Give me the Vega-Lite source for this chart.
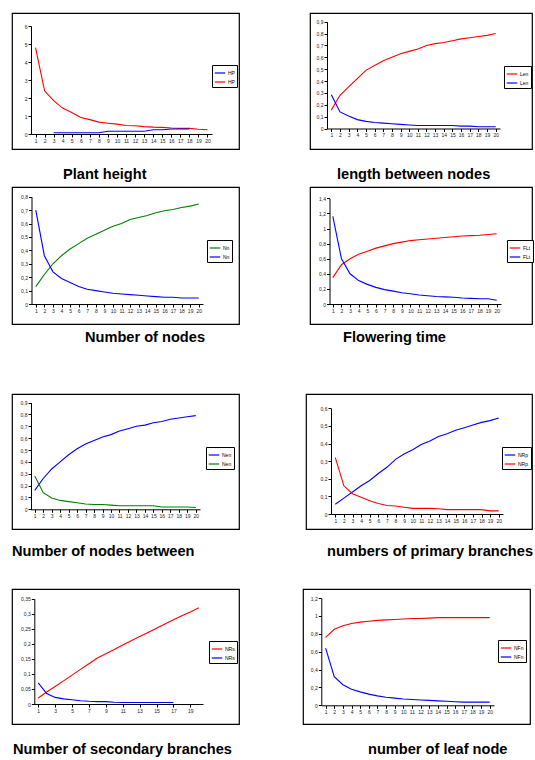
{
"$schema": "https://vega.github.io/schema/vega-lite/v6.json",
"background": "white",
"padding": {"left": 11, "top": 12, "right": 0, "bottom": 0},
"datasets": {
"p1": [
{"s":"HP|r","x":1,"y":4.8},{"s":"HP|r","x":2,"y":2.4},{"s":"HP|r","x":3,"y":1.85},{"s":"HP|r","x":4,"y":1.44},{"s":"HP|r","x":5,"y":1.2},{"s":"HP|r","x":6,"y":0.92},{"s":"HP|r","x":7,"y":0.8},{"s":"HP|r","x":8,"y":0.66},{"s":"HP|r","x":9,"y":0.6},{"s":"HP|r","x":10,"y":0.55},{"s":"HP|r","x":11,"y":0.47},{"s":"HP|r","x":12,"y":0.46},{"s":"HP|r","x":13,"y":0.41},{"s":"HP|r","x":14,"y":0.38},{"s":"HP|r","x":15,"y":0.37},{"s":"HP|r","x":16,"y":0.33},{"s":"HP|r","x":17,"y":0.31},{"s":"HP|r","x":18,"y":0.31},{"s":"HP|r","x":19,"y":0.26},{"s":"HP|r","x":20,"y":0.24},
{"s":"HP|b","x":3,"y":0.07},{"s":"HP|b","x":4,"y":0.07},{"s":"HP|b","x":5,"y":0.07},{"s":"HP|b","x":6,"y":0.07},{"s":"HP|b","x":7,"y":0.07},{"s":"HP|b","x":8,"y":0.07},{"s":"HP|b","x":9,"y":0.15},{"s":"HP|b","x":10,"y":0.15},{"s":"HP|b","x":11,"y":0.15},{"s":"HP|b","x":12,"y":0.15},{"s":"HP|b","x":13,"y":0.15},{"s":"HP|b","x":14,"y":0.24},{"s":"HP|b","x":15,"y":0.24},{"s":"HP|b","x":16,"y":0.28},{"s":"HP|b","x":17,"y":0.28},{"s":"HP|b","x":18,"y":0.28}
],
"p2": [
{"s":"Len|r","x":1,"y":0.155},{"s":"Len|r","x":2,"y":0.28},{"s":"Len|r","x":3,"y":0.35},{"s":"Len|r","x":4,"y":0.42},{"s":"Len|r","x":5,"y":0.49},{"s":"Len|r","x":6,"y":0.53},{"s":"Len|r","x":7,"y":0.57},{"s":"Len|r","x":8,"y":0.6},{"s":"Len|r","x":9,"y":0.63},{"s":"Len|r","x":10,"y":0.65},{"s":"Len|r","x":11,"y":0.67},{"s":"Len|r","x":12,"y":0.7},{"s":"Len|r","x":13,"y":0.715},{"s":"Len|r","x":14,"y":0.725},{"s":"Len|r","x":15,"y":0.74},{"s":"Len|r","x":16,"y":0.755},{"s":"Len|r","x":17,"y":0.765},{"s":"Len|r","x":18,"y":0.775},{"s":"Len|r","x":19,"y":0.785},{"s":"Len|r","x":20,"y":0.8},
{"s":"Len|b","x":1,"y":0.285},{"s":"Len|b","x":2,"y":0.14},{"s":"Len|b","x":3,"y":0.105},{"s":"Len|b","x":4,"y":0.075},{"s":"Len|b","x":5,"y":0.06},{"s":"Len|b","x":6,"y":0.05},{"s":"Len|b","x":7,"y":0.045},{"s":"Len|b","x":8,"y":0.04},{"s":"Len|b","x":9,"y":0.035},{"s":"Len|b","x":10,"y":0.03},{"s":"Len|b","x":11,"y":0.025},{"s":"Len|b","x":12,"y":0.025},{"s":"Len|b","x":13,"y":0.025},{"s":"Len|b","x":14,"y":0.025},{"s":"Len|b","x":15,"y":0.025},{"s":"Len|b","x":16,"y":0.02},{"s":"Len|b","x":17,"y":0.02},{"s":"Len|b","x":18,"y":0.015},{"s":"Len|b","x":19,"y":0.015},{"s":"Len|b","x":20,"y":0.015}
],
"p3": [
{"s":"Nn|g","x":1,"y":0.13},{"s":"Nn|g","x":2,"y":0.22},{"s":"Nn|g","x":3,"y":0.3},{"s":"Nn|g","x":4,"y":0.36},{"s":"Nn|g","x":5,"y":0.41},{"s":"Nn|g","x":6,"y":0.45},{"s":"Nn|g","x":7,"y":0.49},{"s":"Nn|g","x":8,"y":0.52},{"s":"Nn|g","x":9,"y":0.55},{"s":"Nn|g","x":10,"y":0.58},{"s":"Nn|g","x":11,"y":0.6},{"s":"Nn|g","x":12,"y":0.63},{"s":"Nn|g","x":13,"y":0.645},{"s":"Nn|g","x":14,"y":0.66},{"s":"Nn|g","x":15,"y":0.68},{"s":"Nn|g","x":16,"y":0.695},{"s":"Nn|g","x":17,"y":0.705},{"s":"Nn|g","x":18,"y":0.72},{"s":"Nn|g","x":19,"y":0.73},{"s":"Nn|g","x":20,"y":0.745},
{"s":"Nn|b","x":1,"y":0.7},{"s":"Nn|b","x":2,"y":0.36},{"s":"Nn|b","x":3,"y":0.24},{"s":"Nn|b","x":4,"y":0.19},{"s":"Nn|b","x":5,"y":0.16},{"s":"Nn|b","x":6,"y":0.13},{"s":"Nn|b","x":7,"y":0.11},{"s":"Nn|b","x":8,"y":0.1},{"s":"Nn|b","x":9,"y":0.09},{"s":"Nn|b","x":10,"y":0.08},{"s":"Nn|b","x":11,"y":0.075},{"s":"Nn|b","x":12,"y":0.07},{"s":"Nn|b","x":13,"y":0.065},{"s":"Nn|b","x":14,"y":0.06},{"s":"Nn|b","x":15,"y":0.055},{"s":"Nn|b","x":16,"y":0.05},{"s":"Nn|b","x":17,"y":0.05},{"s":"Nn|b","x":18,"y":0.045},{"s":"Nn|b","x":19,"y":0.045},{"s":"Nn|b","x":20,"y":0.045}
],
"p4": [
{"s":"FLt|r","x":1,"y":0.35},{"s":"FLt|r","x":2,"y":0.52},{"s":"FLt|r","x":3,"y":0.6},{"s":"FLt|r","x":4,"y":0.66},{"s":"FLt|r","x":5,"y":0.7},{"s":"FLt|r","x":6,"y":0.74},{"s":"FLt|r","x":7,"y":0.77},{"s":"FLt|r","x":8,"y":0.8},{"s":"FLt|r","x":9,"y":0.82},{"s":"FLt|r","x":10,"y":0.84},{"s":"FLt|r","x":11,"y":0.85},{"s":"FLt|r","x":12,"y":0.86},{"s":"FLt|r","x":13,"y":0.87},{"s":"FLt|r","x":14,"y":0.88},{"s":"FLt|r","x":15,"y":0.89},{"s":"FLt|r","x":16,"y":0.9},{"s":"FLt|r","x":17,"y":0.905},{"s":"FLt|r","x":18,"y":0.91},{"s":"FLt|r","x":19,"y":0.92},{"s":"FLt|r","x":20,"y":0.93},
{"s":"FLt|b","x":1,"y":1.16},{"s":"FLt|b","x":2,"y":0.6},{"s":"FLt|b","x":3,"y":0.4},{"s":"FLt|b","x":4,"y":0.31},{"s":"FLt|b","x":5,"y":0.26},{"s":"FLt|b","x":6,"y":0.22},{"s":"FLt|b","x":7,"y":0.19},{"s":"FLt|b","x":8,"y":0.17},{"s":"FLt|b","x":9,"y":0.15},{"s":"FLt|b","x":10,"y":0.135},{"s":"FLt|b","x":11,"y":0.12},{"s":"FLt|b","x":12,"y":0.11},{"s":"FLt|b","x":13,"y":0.1},{"s":"FLt|b","x":14,"y":0.095},{"s":"FLt|b","x":15,"y":0.09},{"s":"FLt|b","x":16,"y":0.08},{"s":"FLt|b","x":17,"y":0.075},{"s":"FLt|b","x":18,"y":0.07},{"s":"FLt|b","x":19,"y":0.07},{"s":"FLt|b","x":20,"y":0.05}
],
"p5": [
{"s":"Nen|b","x":1,"y":0.16},{"s":"Nen|b","x":2,"y":0.26},{"s":"Nen|b","x":3,"y":0.34},{"s":"Nen|b","x":4,"y":0.4},{"s":"Nen|b","x":5,"y":0.46},{"s":"Nen|b","x":6,"y":0.51},{"s":"Nen|b","x":7,"y":0.55},{"s":"Nen|b","x":8,"y":0.58},{"s":"Nen|b","x":9,"y":0.61},{"s":"Nen|b","x":10,"y":0.63},{"s":"Nen|b","x":11,"y":0.66},{"s":"Nen|b","x":12,"y":0.68},{"s":"Nen|b","x":13,"y":0.7},{"s":"Nen|b","x":14,"y":0.71},{"s":"Nen|b","x":15,"y":0.73},{"s":"Nen|b","x":16,"y":0.74},{"s":"Nen|b","x":17,"y":0.76},{"s":"Nen|b","x":18,"y":0.77},{"s":"Nen|b","x":19,"y":0.78},{"s":"Nen|b","x":20,"y":0.79},
{"s":"Nen|g","x":1,"y":0.28},{"s":"Nen|g","x":2,"y":0.14},{"s":"Nen|g","x":3,"y":0.095},{"s":"Nen|g","x":4,"y":0.075},{"s":"Nen|g","x":5,"y":0.065},{"s":"Nen|g","x":6,"y":0.055},{"s":"Nen|g","x":7,"y":0.045},{"s":"Nen|g","x":8,"y":0.04},{"s":"Nen|g","x":9,"y":0.04},{"s":"Nen|g","x":10,"y":0.035},{"s":"Nen|g","x":11,"y":0.03},{"s":"Nen|g","x":12,"y":0.03},{"s":"Nen|g","x":13,"y":0.03},{"s":"Nen|g","x":14,"y":0.03},{"s":"Nen|g","x":15,"y":0.03},{"s":"Nen|g","x":16,"y":0.02},{"s":"Nen|g","x":17,"y":0.02},{"s":"Nen|g","x":18,"y":0.02},{"s":"Nen|g","x":19,"y":0.02},{"s":"Nen|g","x":20,"y":0.015}
],
"p6": [
{"s":"NRp|b","x":1,"y":0.055},{"s":"NRp|b","x":2,"y":0.09},{"s":"NRp|b","x":3,"y":0.125},{"s":"NRp|b","x":4,"y":0.16},{"s":"NRp|b","x":5,"y":0.19},{"s":"NRp|b","x":6,"y":0.23},{"s":"NRp|b","x":7,"y":0.265},{"s":"NRp|b","x":8,"y":0.31},{"s":"NRp|b","x":9,"y":0.34},{"s":"NRp|b","x":10,"y":0.365},{"s":"NRp|b","x":11,"y":0.395},{"s":"NRp|b","x":12,"y":0.415},{"s":"NRp|b","x":13,"y":0.44},{"s":"NRp|b","x":14,"y":0.455},{"s":"NRp|b","x":15,"y":0.475},{"s":"NRp|b","x":16,"y":0.49},{"s":"NRp|b","x":17,"y":0.505},{"s":"NRp|b","x":18,"y":0.52},{"s":"NRp|b","x":19,"y":0.53},{"s":"NRp|b","x":20,"y":0.545},
{"s":"NRp|r","x":1,"y":0.32},{"s":"NRp|r","x":2,"y":0.16},{"s":"NRp|r","x":3,"y":0.115},{"s":"NRp|r","x":4,"y":0.095},{"s":"NRp|r","x":5,"y":0.075},{"s":"NRp|r","x":6,"y":0.06},{"s":"NRp|r","x":7,"y":0.048},{"s":"NRp|r","x":8,"y":0.045},{"s":"NRp|r","x":9,"y":0.038},{"s":"NRp|r","x":10,"y":0.032},{"s":"NRp|r","x":11,"y":0.032},{"s":"NRp|r","x":12,"y":0.032},{"s":"NRp|r","x":13,"y":0.03},{"s":"NRp|r","x":14,"y":0.025},{"s":"NRp|r","x":15,"y":0.025},{"s":"NRp|r","x":16,"y":0.025},{"s":"NRp|r","x":17,"y":0.025},{"s":"NRp|r","x":18,"y":0.025},{"s":"NRp|r","x":19,"y":0.018},{"s":"NRp|r","x":20,"y":0.018}
],
"p7": [
{"s":"NRs|r","x":1,"y":0.02},{"s":"NRs|r","x":2,"y":0.04},{"s":"NRs|r","x":3,"y":0.058},{"s":"NRs|r","x":4,"y":0.077},{"s":"NRs|r","x":5,"y":0.096},{"s":"NRs|r","x":6,"y":0.115},{"s":"NRs|r","x":7,"y":0.134},{"s":"NRs|r","x":8,"y":0.153},{"s":"NRs|r","x":9,"y":0.167},{"s":"NRs|r","x":10,"y":0.181},{"s":"NRs|r","x":11,"y":0.196},{"s":"NRs|r","x":12,"y":0.21},{"s":"NRs|r","x":13,"y":0.224},{"s":"NRs|r","x":14,"y":0.238},{"s":"NRs|r","x":15,"y":0.252},{"s":"NRs|r","x":16,"y":0.266},{"s":"NRs|r","x":17,"y":0.28},{"s":"NRs|r","x":18,"y":0.293},{"s":"NRs|r","x":19,"y":0.306},{"s":"NRs|r","x":20,"y":0.32},
{"s":"NRs|b","x":1,"y":0.07},{"s":"NRs|b","x":2,"y":0.035},{"s":"NRs|b","x":3,"y":0.022},{"s":"NRs|b","x":4,"y":0.017},{"s":"NRs|b","x":5,"y":0.014},{"s":"NRs|b","x":6,"y":0.011},{"s":"NRs|b","x":7,"y":0.009},{"s":"NRs|b","x":8,"y":0.008},{"s":"NRs|b","x":9,"y":0.008},{"s":"NRs|b","x":10,"y":0.006},{"s":"NRs|b","x":11,"y":0.005},{"s":"NRs|b","x":12,"y":0.005},{"s":"NRs|b","x":13,"y":0.005},{"s":"NRs|b","x":14,"y":0.005},{"s":"NRs|b","x":15,"y":0.005},{"s":"NRs|b","x":16,"y":0.005},{"s":"NRs|b","x":17,"y":0.005}
],
"p8": [
{"s":"NFn|r","x":1,"y":0.76},{"s":"NFn|r","x":2,"y":0.85},{"s":"NFn|r","x":3,"y":0.89},{"s":"NFn|r","x":4,"y":0.915},{"s":"NFn|r","x":5,"y":0.93},{"s":"NFn|r","x":6,"y":0.94},{"s":"NFn|r","x":7,"y":0.95},{"s":"NFn|r","x":8,"y":0.955},{"s":"NFn|r","x":9,"y":0.96},{"s":"NFn|r","x":10,"y":0.965},{"s":"NFn|r","x":11,"y":0.97},{"s":"NFn|r","x":12,"y":0.97},{"s":"NFn|r","x":13,"y":0.975},{"s":"NFn|r","x":14,"y":0.98},{"s":"NFn|r","x":15,"y":0.98},{"s":"NFn|r","x":16,"y":0.98},{"s":"NFn|r","x":17,"y":0.98},{"s":"NFn|r","x":18,"y":0.98},{"s":"NFn|r","x":19,"y":0.98},{"s":"NFn|r","x":20,"y":0.98},
{"s":"NFn|b","x":1,"y":0.64},{"s":"NFn|b","x":2,"y":0.32},{"s":"NFn|b","x":3,"y":0.23},{"s":"NFn|b","x":4,"y":0.18},{"s":"NFn|b","x":5,"y":0.15},{"s":"NFn|b","x":6,"y":0.125},{"s":"NFn|b","x":7,"y":0.105},{"s":"NFn|b","x":8,"y":0.09},{"s":"NFn|b","x":9,"y":0.08},{"s":"NFn|b","x":10,"y":0.07},{"s":"NFn|b","x":11,"y":0.065},{"s":"NFn|b","x":12,"y":0.06},{"s":"NFn|b","x":13,"y":0.055},{"s":"NFn|b","x":14,"y":0.05},{"s":"NFn|b","x":15,"y":0.045},{"s":"NFn|b","x":16,"y":0.04},{"s":"NFn|b","x":17,"y":0.035},{"s":"NFn|b","x":18,"y":0.035},{"s":"NFn|b","x":19,"y":0.035},{"s":"NFn|b","x":20,"y":0.035}
]
},
"spacing": 47,
"resolve": {"scale": {"color": "independent"}, "legend": {"color": "independent"}},
"vconcat": [
{
"spacing": 3,
"resolve": {"scale": {"color": "independent"}, "legend": {"color": "independent"}},
"vconcat": [
{
"spacing": 69,
"resolve": {"scale": {"color": "independent"}, "legend": {"color": "independent"}},
"hconcat": [
{
"width": 227, "height": 136,
"data": {"name": "p1"},
"title": {"text": "Plant height", "dx": 51, "offset": 18},
"mark": {"type": "line", "strokeWidth": 1.1},
"encoding": {
"x": {"field": "x", "type": "quantitative", "scale": {"domain": [0.5, 20.5], "range": [19, 200], "nice": false, "zero": false}, "axis": {"values": [1,2,3,4,5,6,7,8,9,10,11,12,13,14,15,16,17,18,19,20], "offset": -15}},
"y": {"field": "y", "type": "quantitative", "scale": {"domain": [0, 6], "range": [121, 13], "nice": false, "zero": false}, "axis": {"values": [0,1,2,3,4,5,6], "offset": -19, "format": "~g", "labelExpr": "replace(datum.label, '.', ',')"}},
"color": {"field": "s", "type": "nominal", "scale": {"domain": ["HP|b", "HP|r"], "range": ["#0000ff", "#ff0000"]}, "legend": {"title": null, "legendX": 200, "legendY": 52, "labelExpr": "split(datum.label, '|')[0]"}}
}
},
{
"width": 222, "height": 136,
"data": {"name": "p2"},
"title": {"text": "length between nodes", "dx": 27, "offset": 18},
"mark": {"type": "line", "strokeWidth": 1.1},
"encoding": {
"x": {"field": "x", "type": "quantitative", "scale": {"domain": [0.5, 20.5], "range": [17, 190], "nice": false, "zero": false}, "axis": {"values": [1,2,3,4,5,6,7,8,9,10,11,12,13,14,15,16,17,18,19,20], "offset": -20.5}},
"y": {"field": "y", "type": "quantitative", "scale": {"domain": [0, 0.9], "range": [115.5, 8.7], "nice": false, "zero": false}, "axis": {"values": [0,0.1,0.2,0.3,0.4,0.5,0.6,0.7,0.8,0.9], "offset": -17, "format": "~g", "labelExpr": "replace(datum.label, '.', ',')"}},
"color": {"field": "s", "type": "nominal", "scale": {"domain": ["Len|r", "Len|b"], "range": ["#ff0000", "#0000ff"]}, "legend": {"title": null, "legendX": 194, "legendY": 53, "labelExpr": "split(datum.label, '|')[0]"}}
}
}
]
},
{
"spacing": 69,
"resolve": {"scale": {"color": "independent"}, "legend": {"color": "independent"}},
"hconcat": [
{
"width": 227, "height": 137,
"data": {"name": "p3"},
"title": {"text": "Number of nodes", "dx": 73, "offset": 6},
"mark": {"type": "line", "strokeWidth": 1.1},
"encoding": {
"x": {"field": "x", "type": "quantitative", "scale": {"domain": [0.5, 20.5], "range": [19.5, 191], "nice": false, "zero": false}, "axis": {"values": [1,2,3,4,5,6,7,8,9,10,11,12,13,14,15,16,17,18,19,20], "offset": -20}},
"y": {"field": "y", "type": "quantitative", "scale": {"domain": [0, 0.8], "range": [117, 9.7], "nice": false, "zero": false}, "axis": {"values": [0,0.1,0.2,0.3,0.4,0.5,0.6,0.7,0.8], "offset": -19.5, "format": "~g", "labelExpr": "replace(datum.label, '.', ',')"}},
"color": {"field": "s", "type": "nominal", "scale": {"domain": ["Nn|g", "Nn|b"], "range": ["#008000", "#0000ff"]}, "legend": {"title": null, "legendX": 195, "legendY": 53, "labelExpr": "split(datum.label, '|')[0]"}}
}
},
{
"width": 222, "height": 137,
"data": {"name": "p4"},
"title": {"text": "Flowering time", "dx": 33, "offset": 6},
"mark": {"type": "line", "strokeWidth": 1.1},
"encoding": {
"x": {"field": "x", "type": "quantitative", "scale": {"domain": [0.5, 20.5], "range": [18.5, 191], "nice": false, "zero": false}, "axis": {"values": [1,2,3,4,5,6,7,8,9,10,11,12,13,14,15,16,17,18,19,20], "offset": -20}},
"y": {"field": "y", "type": "quantitative", "scale": {"domain": [0, 1.4], "range": [117, 11.3], "nice": false, "zero": false}, "axis": {"values": [0,0.2,0.4,0.6,0.8,1,1.2,1.4], "offset": -19.5, "format": "~g", "labelExpr": "replace(datum.label, '.', ',')"}},
"color": {"field": "s", "type": "nominal", "scale": {"domain": ["FLt|r", "FLt|b"], "range": ["#ff0000", "#0000ff"]}, "legend": {"title": null, "legendX": 197, "legendY": 53, "labelExpr": "split(datum.label, '|')[0]"}}
}
}
]
}
]
},
{
"spacing": 28,
"resolve": {"scale": {"color": "independent"}, "legend": {"color": "independent"}},
"vconcat": [
{
"spacing": 65,
"resolve": {"scale": {"color": "independent"}, "legend": {"color": "independent"}},
"hconcat": [
{
"width": 227, "height": 135,
"data": {"name": "p5"},
"title": {"text": "Number of nodes between", "dx": 0, "offset": 15},
"mark": {"type": "line", "strokeWidth": 1.1},
"encoding": {
"x": {"field": "x", "type": "quantitative", "scale": {"domain": [0.5, 20.5], "range": [18.5, 188], "nice": false, "zero": false}, "axis": {"values": [1,2,3,4,5,6,7,8,9,10,11,12,13,14,15,16,17,18,19,20], "offset": -19.7}},
"y": {"field": "y", "type": "quantitative", "scale": {"domain": [0, 0.9], "range": [115.3, 8.6], "nice": false, "zero": false}, "axis": {"values": [0,0.1,0.2,0.3,0.4,0.5,0.6,0.7,0.8,0.9], "offset": -19, "format": "~g", "labelExpr": "replace(datum.label, '.', ',')"}},
"color": {"field": "s", "type": "nominal", "scale": {"domain": ["Nen|b", "Nen|g"], "range": ["#0000ff", "#008000"]}, "legend": {"title": null, "legendX": 194, "legendY": 53, "labelExpr": "split(datum.label, '|')[0]"}}
}
},
{
"width": 226, "height": 135,
"data": {"name": "p6"},
"title": {"text": "numbers of primary branches", "dx": 21, "offset": 15},
"mark": {"type": "line", "strokeWidth": 1.1},
"encoding": {
"x": {"field": "x", "type": "quantitative", "scale": {"domain": [0.5, 20.5], "range": [25, 197], "nice": false, "zero": false}, "axis": {"values": [1,2,3,4,5,6,7,8,9,10,11,12,13,14,15,16,17,18,19,20], "offset": -15}},
"y": {"field": "y", "type": "quantitative", "scale": {"domain": [0, 0.6], "range": [120, 14.3], "nice": false, "zero": false}, "axis": {"values": [0,0.1,0.2,0.3,0.4,0.5,0.6], "offset": -25, "format": "~g", "labelExpr": "replace(datum.label, '.', ',')"}},
"color": {"field": "s", "type": "nominal", "scale": {"domain": ["NRp|b", "NRp|r"], "range": ["#0000ff", "#ff0000"]}, "legend": {"title": null, "legendX": 196, "legendY": 53, "labelExpr": "split(datum.label, '|')[0]"}}
}
}
]
},
{
"spacing": 62,
"resolve": {"scale": {"color": "independent"}, "legend": {"color": "independent"}},
"hconcat": [
{
"width": 227, "height": 135,
"data": {"name": "p7"},
"title": {"text": "Number of secondary branches", "dx": 1, "offset": 18},
"mark": {"type": "line", "strokeWidth": 1.1},
"encoding": {
"x": {"field": "x", "type": "quantitative", "scale": {"domain": [0.5, 20.5], "range": [22, 191], "nice": false, "zero": false}, "axis": {"values": [1,3,5,7,9,11,13,15,17,19], "offset": -20}},
"y": {"field": "y", "type": "quantitative", "scale": {"domain": [0, 0.35], "range": [115, 9.7], "nice": false, "zero": false}, "axis": {"values": [0,0.05,0.1,0.15,0.2,0.25,0.3,0.35], "offset": -22.3, "format": "~g", "labelExpr": "replace(datum.label, '.', ',')"}},
"color": {"field": "s", "type": "nominal", "scale": {"domain": ["NRs|r", "NRs|b"], "range": ["#ff0000", "#0000ff"]}, "legend": {"title": null, "legendX": 197, "legendY": 52, "labelExpr": "split(datum.label, '|')[0]"}}
}
},
{
"width": 227, "height": 135,
"data": {"name": "p8"},
"title": {"text": "number of leaf node", "dx": 65, "offset": 18},
"mark": {"type": "line", "strokeWidth": 1.1},
"encoding": {
"x": {"field": "x", "type": "quantitative", "scale": {"domain": [0.5, 20.5], "range": [18.3, 191], "nice": false, "zero": false}, "axis": {"values": [1,2,3,4,5,6,7,8,9,10,11,12,13,14,15,16,17,18,19,20], "offset": -18.7}},
"y": {"field": "y", "type": "quantitative", "scale": {"domain": [0, 1.2], "range": [116.3, 9], "nice": false, "zero": false}, "axis": {"values": [0,0.2,0.4,0.6,0.8,1,1.2], "offset": -18.3, "format": "~g", "labelExpr": "replace(datum.label, '.', ',')"}},
"color": {"field": "s", "type": "nominal", "scale": {"domain": ["NFn|r", "NFn|b"], "range": ["#ff0000", "#0000ff"]}, "legend": {"title": null, "legendX": 195, "legendY": 51, "labelExpr": "split(datum.label, '|')[0]"}}
}
}
]
}
]
}
],
"config": {
"view": {"stroke": "#000", "strokeWidth": 1.2},
"axis": {"domainColor": "#000", "domainWidth": 1, "tickColor": "#000", "tickSize": 3, "tickWidth": 1, "labelFont": "Liberation Sans", "labelFontSize": 5, "labelColor": "#222", "labelPadding": 1, "grid": false, "title": null, "labelOverlap": false, "labelFlush": false},
"title": {"font": "Liberation Sans", "fontSize": 14.6, "fontWeight": "bold", "color": "#000", "orient": "bottom", "anchor": "start", "frame": "group", "baseline": "top"},
"legend": {"orient": "none", "strokeColor": "#000", "strokeWidth": 1, "fillColor": "#fff", "padding": 2, "symbolType": "stroke", "symbolSize": 110, "symbolStrokeWidth": 1.2, "labelFont": "Liberation Sans", "labelFontSize": 5, "labelColor": "#000", "labelOffset": 2, "rowPadding": 0}
}
}
